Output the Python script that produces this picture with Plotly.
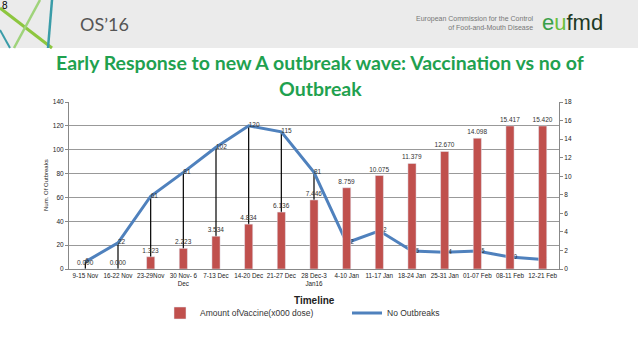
import plotly.graph_objects as go

categories = ["9-15 Nov", "16-22 Nov", "23-29Nov", "30 Nov- 6<br>Dec", "7-13 Dec", "14-20 Dec",
              "21-27 Dec", "28 Dec-3<br>Jan16", "4-10 Jan", "11-17 Jan", "18-24 Jan", "25-31 Jan",
              "01-07 Feb", "08-11 Feb", "12-21 Feb"]
vaccine = [0.000, 0.000, 1.323, 2.223, 3.534, 4.834, 6.136, 7.446, 8.759, 10.075, 11.379,
           12.670, 14.098, 15.417, 15.420]
outbreaks = [6, 22, 61, 81, 102, 120, 115, 81, 22, 32, 15, 14, 15, 10, 8]

W, H = 638, 359
L, R, T, B = 69, 559, 102, 269


def px(x):
    return (x - L) / (R - L)


def py(y):
    return (B - y) / (B - T)


fig = go.Figure()

fig.add_trace(go.Bar(
    x=categories, y=vaccine, name="Amount ofVaccine(x000 dose)",
    marker_color="#c0504d", width=0.25, yaxis="y2",
    text=[f"{v:.3f}" for v in vaccine], textposition="outside", constraintext="none",
    textfont=dict(size=6.5, color="#333333"), cliponaxis=False,
))

# drop lines
fig.add_trace(go.Scatter(
    x=categories, y=outbreaks, mode="markers", marker=dict(size=0.1, color="black"),
    error_y=dict(type="data", symmetric=False, array=[0] * len(outbreaks),
                 arrayminus=outbreaks, width=0, color="black", thickness=1.2),
    showlegend=False, hoverinfo="skip",
))

fig.add_trace(go.Scatter(
    x=categories, y=outbreaks, name="No Outbreaks", mode="lines+text",
    line=dict(color="#4f81bd", width=3),
    text=[str(v) for v in outbreaks], textposition="middle right",
    textfont=dict(size=6.5, color="#333333"), cliponaxis=False,
))

shapes = [
    dict(type="rect", xref="paper", yref="paper", x0=px(0), x1=px(W), y0=py(48), y1=py(0),
         fillcolor="#ebebeb", line=dict(width=0), layer="below"),
    dict(type="line", xref="paper", yref="paper", x0=px(0), y0=py(8), x1=px(52), y1=py(48),
         line=dict(color="#8dc63f", width=3)),
    dict(type="line", xref="paper", yref="paper", x0=px(14), y0=py(48), x1=px(40), y1=py(0),
         line=dict(color="#9fd37a", width=2.5)),
    dict(type="line", xref="paper", yref="paper", x0=px(48), y0=py(48), x1=px(52), y1=py(0),
         line=dict(color="#3a9ca8", width=2.5)),
    dict(type="line", xref="paper", yref="paper", x0=px(0), y0=py(30), x1=px(10), y1=py(48),
         line=dict(color="#3a9ca8", width=2)),
]

annotations = [
    dict(text="8", x=px(0), y=py(6), xref="paper", yref="paper", showarrow=False,
         xanchor="left", yanchor="middle", font=dict(size=10, color="black", family="Liberation Sans")),
    dict(text="OS’16", x=px(78), y=py(24), xref="paper", yref="paper", showarrow=False,
         xanchor="left", yanchor="middle", font=dict(size=18, color="#555555", family="Lato")),
    dict(text="European Commission for the Control<br>of Foot-and-Mouth Disease", x=px(536), y=py(23),
         xref="paper", yref="paper", showarrow=False, xanchor="right", yanchor="middle", align="right",
         font=dict(size=7, color="#777777", family="Liberation Sans")),
    dict(text="<span style='color:#3aa04a'>e</span><span style='color:#6bbf3a'>u</span><span style='color:#1e3a24'>fmd</span>",
         x=px(540), y=py(22), xref="paper", yref="paper", showarrow=False, xanchor="left", yanchor="middle",
         font=dict(size=22, family="Liberation Sans")),
    dict(text="<b>Early Response to new A outbreak wave: Vaccination vs no of</b>", x=px(320), y=py(62),
         xref="paper", yref="paper", showarrow=False, xanchor="center", yanchor="middle",
         font=dict(size=19.5, color="#1fa14f", family="Lato")),
    dict(text="<b>Outbreak</b>", x=px(320), y=py(88),
         xref="paper", yref="paper", showarrow=False, xanchor="center", yanchor="middle",
         font=dict(size=19.5, color="#1fa14f", family="Lato")),
    dict(text="Num. Of Outbreaks", x=px(46), y=py(185), xref="paper", yref="paper", showarrow=False,
         textangle=-90, xanchor="center", yanchor="middle",
         font=dict(size=6, color="#222222", family="Liberation Sans")),
    dict(text="<b>Timeline</b>", x=px(314), y=py(300), xref="paper", yref="paper", showarrow=False,
         xanchor="center", yanchor="middle", font=dict(size=10, color="#222222", family="Liberation Sans")),
]

fig.update_layout(
    width=W, height=H,
    margin=dict(l=L, r=W - R, t=T, b=H - B, pad=0, autoexpand=False),
    paper_bgcolor="white", plot_bgcolor="white",
    font=dict(family="Liberation Sans", size=6.5, color="#333333"),
    showlegend=True,
    legend=dict(orientation="h", xref="container", yref="container", x=347 / W, y=1 - 313 / H,
                xanchor="center", yanchor="middle", bgcolor="rgba(0,0,0,0)",
                font=dict(size=8.5, color="#333333"), itemwidth=30, tracegroupgap=0,
                entrywidth=142),
    xaxis=dict(type="category", showgrid=False, showline=True, linecolor="#888888", linewidth=1,
               ticks="", tickfont=dict(size=6.3, color="#222222"), tickangle=0, range=[-0.5, 14.5],
               automargin=False),
    yaxis=dict(range=[0, 140], dtick=20, showgrid=True, gridcolor="#999999", gridwidth=1,
               showline=True, linecolor="#888888", ticks="outside", ticklen=3, tickcolor="#888888",
               tickfont=dict(size=6.5, color="#222222"), zeroline=False, automargin=False),
    yaxis2=dict(range=[0, 18], dtick=2, overlaying="y", side="right", showgrid=False,
                showline=True, linecolor="#888888", ticks="outside", ticklen=3, tickcolor="#888888",
                tickfont=dict(size=6.5, color="#222222"), zeroline=False, automargin=False),
    bargap=0.75,
    shapes=shapes,
    annotations=annotations,
)

fig.write_html("out.html", config={"displayModeBar": False},
               post_script="document.body.style.margin='0';")
